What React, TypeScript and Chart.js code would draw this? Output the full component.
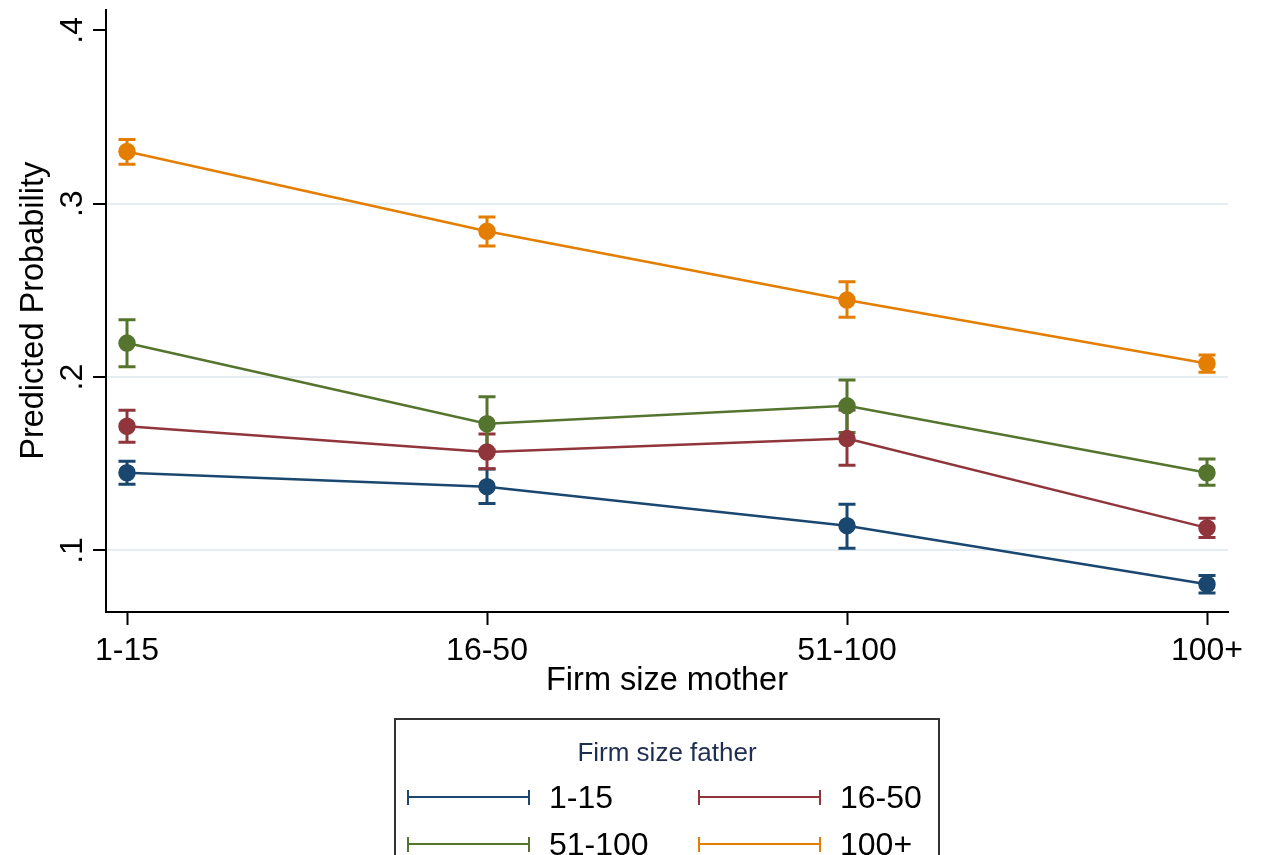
import React, { useEffect, useRef } from 'react';
import { Chart, registerables } from 'chart.js';

Chart.register(...registerables);

const categories = ['1-15', '16-50', '51-100', '100+'];
const seriesNames = ['1-15', '16-50', '51-100', '100+'];
const seriesColors = ['#1a476f', '#90353b', '#55752f', '#e37e00'];

const est1to15 = [0.1448, 0.1368, 0.1143, 0.0805];
const lo1to15 = [0.1382, 0.1271, 0.1013, 0.0755];
const hi1to15 = [0.1515, 0.147, 0.1267, 0.0855];

const est16to50 = [0.1716, 0.1568, 0.1645, 0.113];
const lo16to50 = [0.1624, 0.1471, 0.1491, 0.1075];
const hi16to50 = [0.1809, 0.1671, 0.181, 0.1185];

const est51to100 = [0.2196, 0.1731, 0.1834, 0.1448];
const lo51to100 = [0.2059, 0.158, 0.168, 0.1376];
const hi51to100 = [0.233, 0.1887, 0.1983, 0.1528];

const est100plus = [0.3301, 0.2841, 0.2444, 0.2078];
const lo100plus = [0.3228, 0.2756, 0.2345, 0.2028];
const hi100plus = [0.337, 0.2923, 0.255, 0.2128];

const yTickValues = [0.1, 0.2, 0.3, 0.4];
const yTickLabels = ['.1', '.2', '.3', '.4'];

const estimates = [est1to15, est16to50, est51to100, est100plus];
const lowers = [lo1to15, lo16to50, lo51to100, lo100plus];
const uppers = [hi1to15, hi16to50, hi51to100, hi100plus];

const FONT = '"Liberation Sans", Arial, sans-serif';

const errorBarPlugin = {
  id: 'errorBars',
  beforeDatasetsDraw(chart: any) {
    const ctx = chart.ctx;
    const xs = chart.scales.x;
    const ys = chart.scales.y;
    ctx.save();
    for (let s = 0; s < estimates.length; s++) {
      ctx.strokeStyle = seriesColors[s];
      ctx.lineWidth = 3;
      for (let j = 0; j < categories.length; j++) {
        const x = xs.getPixelForValue(j);
        const yl = ys.getPixelForValue(lowers[s][j]);
        const yh = ys.getPixelForValue(uppers[s][j]);
        ctx.beginPath();
        ctx.moveTo(x, yl);
        ctx.lineTo(x, yh);
        ctx.moveTo(x - 8.5, yl);
        ctx.lineTo(x + 8.5, yl);
        ctx.moveTo(x - 8.5, yh);
        ctx.lineTo(x + 8.5, yh);
        ctx.stroke();
      }
    }
    ctx.restore();
  },
  afterDraw(chart: any) {
    const ctx = chart.ctx;
    const ys = chart.scales.y;
    ctx.save();
    ctx.fillStyle = '#000';
    ctx.font = `32px ${FONT}`;
    ctx.textAlign = 'center';
    ctx.textBaseline = 'alphabetic';
    const bx = ys.right - 13 - 11;
    yTickValues.forEach((v, i) => {
      const y = ys.getPixelForValue(v);
      ctx.save();
      ctx.translate(bx, y);
      ctx.rotate(-Math.PI / 2);
      ctx.fillText(yTickLabels[i], 0, 0);
      ctx.restore();
    });
    ctx.restore();
  },
};

function LegendItem({ color, label, sx, ty }: { color: string; label: string; sx: number; ty: number }) {
  return (
    <>
      <div
        style={{
          position: 'absolute',
          left: sx,
          top: ty - 7.5,
          width: 123,
          height: 15,
          boxSizing: 'border-box',
          borderLeft: `2.5px solid ${color}`,
          borderRight: `2.5px solid ${color}`,
        }}
      >
        <div style={{ position: 'absolute', left: 0, right: 0, top: 6.25, height: 2.5, background: color }} />
      </div>
      <div
        style={{
          position: 'absolute',
          left: sx + 142,
          top: ty - 16,
          fontFamily: FONT,
          fontSize: 32,
          lineHeight: '32px',
          color: '#000',
          whiteSpace: 'nowrap',
        }}
      >
        {label}
      </div>
    </>
  );
}

export default function App() {
  const canvasRef = useRef<HTMLCanvasElement | null>(null);

  useEffect(() => {
    if (!canvasRef.current) return;
    const datasets = estimates.map((arr, s) => ({
      label: seriesNames[s],
      data: arr.map((v, j) => ({ x: j, y: v })),
      borderColor: seriesColors[s],
      backgroundColor: seriesColors[s],
      pointBackgroundColor: seriesColors[s],
      pointBorderColor: seriesColors[s],
      borderWidth: 2.5,
      pointRadius: 8,
      pointBorderWidth: 1.5,
      tension: 0,
      order: 4 - s,
    }));
    const chart = new Chart(canvasRef.current, {
      type: 'line',
      data: { datasets },
      plugins: [errorBarPlugin],
      options: {
        responsive: false,
        animation: false,
        devicePixelRatio: 1,
        layout: { padding: { top: 5, right: 38, bottom: 143, left: 0 } },
        plugins: { legend: { display: false }, tooltip: { enabled: false }, title: { display: false } },
        scales: {
          x: {
            type: 'linear',
            min: -21 / 360,
            max: 3 + 21 / 360,
            afterBuildTicks: (scale: any) => {
              scale.ticks = categories.map((_, i) => ({ value: i }));
            },
            afterFit: (scale: any) => {
              scale.height = 100;
            },
            ticks: {
              autoSkip: false,
              maxRotation: 0,
              minRotation: 0,
              padding: 7,
              color: '#000',
              font: { family: FONT, size: 32 },
              callback: (v: any) => categories[v as number] ?? '',
            },
            grid: {
              drawOnChartArea: false,
              drawTicks: true,
              tickLength: 13,
              tickColor: '#000',
              tickWidth: 2,
            },
            border: { display: true, color: '#000', width: 2 },
            title: {
              display: true,
              text: 'Firm size mother',
              color: '#000',
              font: { family: FONT, size: 32.5 },
              padding: { top: 0, bottom: 11 },
            },
          },
          y: {
            type: 'linear',
            min: 0.0645,
            max: 0.412,
            afterBuildTicks: (scale: any) => {
              scale.ticks = yTickValues.map((v) => ({ value: v }));
            },
            afterFit: (scale: any) => {
              scale.width = 106;
            },
            ticks: { display: false },
            grid: {
              drawOnChartArea: true,
              drawTicks: true,
              tickLength: 13,
              tickColor: '#000',
              tickWidth: 2,
              lineWidth: 2,
              color: (c: any) => (c.tick && Math.abs(c.tick.value - 0.4) < 1e-9 ? 'rgba(0,0,0,0)' : '#e4eef0'),
            },
            border: { display: true, color: '#000', width: 2 },
            title: {
              display: true,
              text: 'Predicted Probability',
              color: '#000',
              font: { family: FONT, size: 32.5 },
              padding: { top: 15, bottom: 0 },
            },
          },
        },
      },
    });
    return () => chart.destroy();
  }, []);

  return (
    <div style={{ position: 'absolute', left: 0, top: 0, width: 1266, height: 855, overflow: 'hidden', background: '#fff' }}>
      <canvas ref={canvasRef} width={1266} height={855} style={{ position: 'absolute', left: 0, top: 0, width: 1266, height: 855 }} />
      <div
        style={{
          position: 'absolute',
          left: 394,
          top: 718,
          width: 546,
          height: 180,
          boxSizing: 'border-box',
          border: '2px solid #333',
        }}
      />
      <div
        style={{
          position: 'absolute',
          left: 394,
          width: 546,
          top: 739,
          textAlign: 'center',
          fontFamily: FONT,
          fontSize: 26,
          lineHeight: '26px',
          color: '#1f2d50',
        }}
      >
        Firm size father
      </div>
      <LegendItem color={seriesColors[0]} label={seriesNames[0]} sx={407} ty={797} />
      <LegendItem color={seriesColors[1]} label={seriesNames[1]} sx={698} ty={797} />
      <LegendItem color={seriesColors[2]} label={seriesNames[2]} sx={407} ty={844} />
      <LegendItem color={seriesColors[3]} label={seriesNames[3]} sx={698} ty={844} />
    </div>
  );
}
